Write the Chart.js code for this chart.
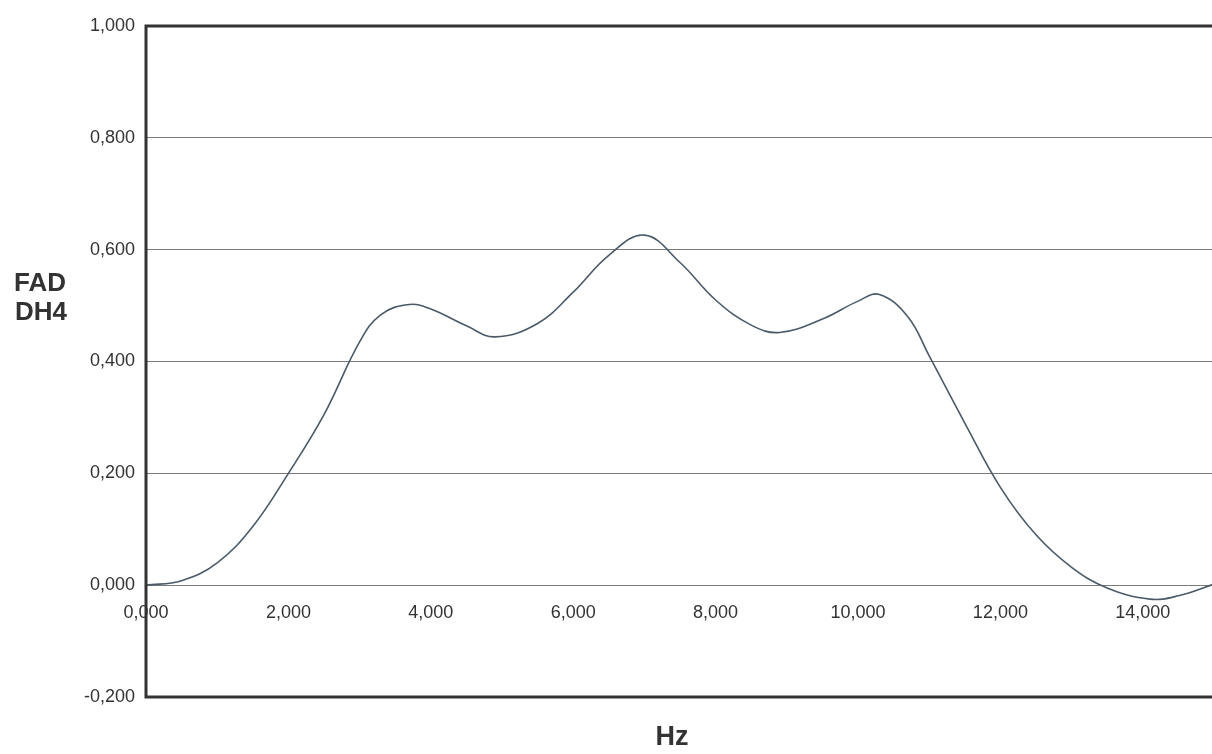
<!DOCTYPE html>
<html>
<head>
<meta charset="utf-8">
<title>FAD DH4</title>
<script src="https://cdn.jsdelivr.net/npm/chart.js@4/dist/chart.umd.min.js"></script>
<style>
  html, body { margin: 0; padding: 0; background: #fff; overflow: hidden; }
  #wrap { width: 1220px; height: 754px; position: relative; }
</style>
</head>
<body>
<div id="wrap"><canvas id="fadChart"></canvas></div>
<script>
// frequency (axis labelled Hz, values as on the tick labels)
const hz = [0, 0.5, 1.0, 1.5, 2.0, 2.5, 3.0, 3.3, 3.7, 4.0, 4.5, 4.9, 5.5, 6.0, 6.5, 7.0,
            7.5, 8.0, 8.5, 8.9, 9.5, 10.0, 10.3, 10.7, 11.0, 11.5, 12.0, 12.5, 13.0, 13.5, 14.1, 14.5, 15.0];
// FAD DH4 response
const fad = [0, 0.008, 0.04, 0.105, 0.2, 0.305, 0.435, 0.484, 0.502, 0.494, 0.464, 0.444, 0.468, 0.524, 0.59, 0.626,
             0.577, 0.51, 0.465, 0.452, 0.476, 0.508, 0.52, 0.48, 0.41, 0.29, 0.175, 0.09, 0.032, -0.005, -0.025, -0.019, 0.002];

const xTicks = [0, 2, 4, 6, 8, 10, 12, 14];
const yTicks = [-0.2, 0, 0.2, 0.4, 0.6, 0.8, 1.0];

// numbers shown like 0,800 / 14,000
function fmt(v) {
    return Number(v).toFixed(3).replace(".", ",");
}

const FONT = "'Liberation Sans', Arial, sans-serif";
Chart.defaults.font.family = FONT;
Chart.defaults.color = "#333";

// thick frame round the plot area, drawn on top like in the scan
const frame = {
    id: "frame",
    afterDraw(chart) {
        const a = chart.chartArea;
        const ctx = chart.ctx;
        ctx.save();
        ctx.strokeStyle = "#333";
        ctx.lineWidth = 3;
        ctx.strokeRect(a.left, a.top, a.right - a.left, a.bottom - a.top);
        ctx.restore();
    }
};

// horizontal axis titles
const titles = {
    id: "titles",
    afterDraw(chart) {
        const ctx = chart.ctx;
        ctx.save();
        ctx.fillStyle = "#333";
        ctx.textAlign = "center";
        ctx.textBaseline = "middle";
        ctx.font = "bold 26px " + FONT;
        ctx.fillText("FAD", 40, 284);
        ctx.fillText("DH4", 41, 313);
        ctx.font = "bold 27px " + FONT;
        ctx.fillText("Hz", 672, 738);
        ctx.restore();
    }
};

const ctx = document.getElementById("fadChart").getContext("2d");
new Chart(ctx, {
    type: "line",
    data: {
        datasets: [{
            data: hz.map((x, i) => ({ x: x, y: fad[i] })),
            borderColor: "#4b5a68",
            borderWidth: 1.6,
            pointRadius: 0,
            tension: 0.4,
            fill: false
        }]
    },
    options: {
        responsive: true,
        maintainAspectRatio: false,
        animation: false,
        layout: { padding: { left: 0, top: 26, right: 6, bottom: 57 } },
        plugins: {
            legend: { display: false },
            tooltip: { enabled: false }
        },
        scales: {
            x: {
                type: "linear",
                position: { y: 0 },
                min: 0,
                max: 15,
                afterBuildTicks: s => { s.ticks = xTicks.map(v => ({ value: v })); },
                grid: { display: false, drawTicks: false },
                border: { display: false },
                ticks: {
                    padding: 17,
                    maxRotation: 0,
                    autoSkip: false,
                    font: { size: 18 },
                    callback: v => fmt(v)
                }
            },
            y: {
                type: "linear",
                min: -0.2,
                max: 1.0,
                afterBuildTicks: s => { s.ticks = yTicks.map(v => ({ value: v })); },
                afterFit: s => { s.width = 146; },
                grid: { color: "#7a7a7a", lineWidth: 1, drawTicks: false },
                border: { display: false },
                ticks: {
                    padding: 11,
                    autoSkip: false,
                    font: { size: 18 },
                    callback: v => fmt(v)
                }
            }
        }
    },
    plugins: [frame, titles]
});
</script>
</body>
</html>
